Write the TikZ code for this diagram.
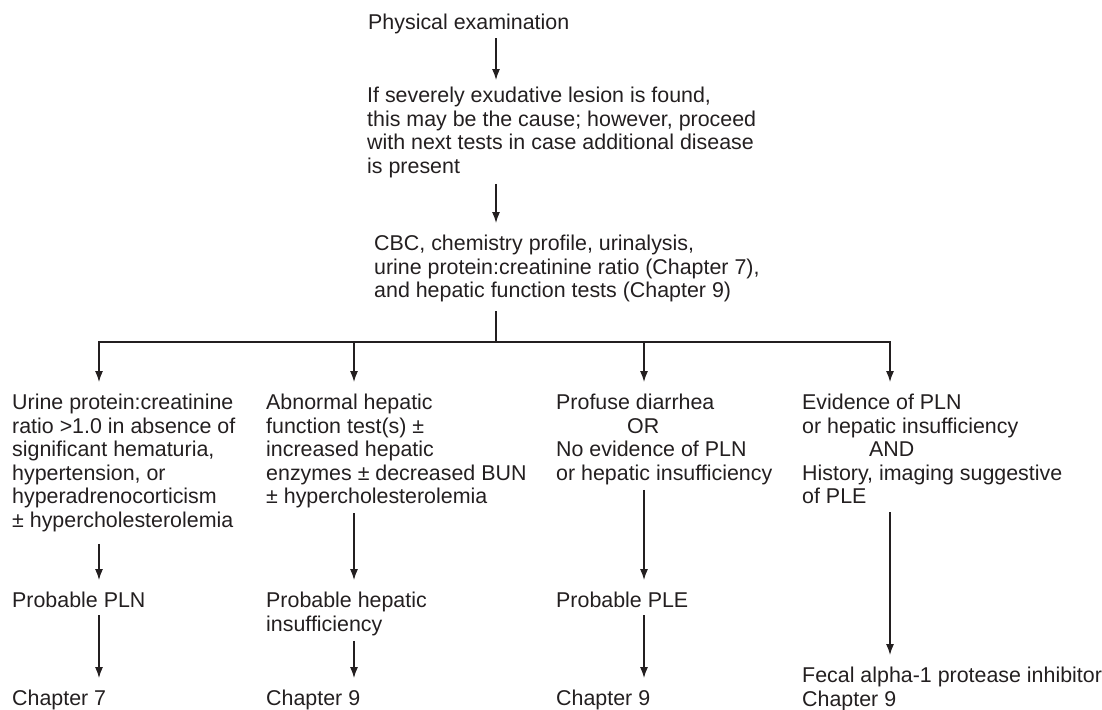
\documentclass[tikz,border=0pt]{standalone}
\usepackage{fontspec}
\setmainfont{Liberation Sans}
\usetikzlibrary{arrows.meta}
\definecolor{ink}{RGB}{35,31,32}

\begin{document}
\begin{tikzpicture}[x=1pt, y=-1pt,
        txt/.style={anchor=north west, align=left, inner sep=0pt, text=ink,
            font=\fontsize{21.4}{23.5}\selectfont},
        line/.style={draw=ink, line width=1.2pt},
        arr/.style={line, -{Latex[length=11pt,width=8pt]}, shorten <=5pt, shorten >=12pt}]
        \useasboundingbox (0,0) rectangle (1102,709);
        % Draw the first steps
        \node[txt] (exam) at (368,14) {Physical examination};
        \node[txt] (lesion) at (367,87) {If severely exudative lesion is found,\\
            this may be the cause; however, proceed\\
            with next tests in case additional disease\\
            is present};
        \node[txt] (tests) at (374,235) {CBC, chemistry profile, urinalysis,\\
            urine protein:creatinine ratio (Chapter 7),\\
            and hepatic function tests (Chapter 9)};
        % Branch points
        \coordinate (mid) at (496,342);
        \coordinate (br1) at (99,342);
        \coordinate (br2) at (354,342);
        \coordinate (br3) at (644,342);
        \coordinate (br4) at (890,342);
        % Draw the findings
        \node[txt] (urine) at (12,394) {Urine protein:creatinine\\
            ratio >1.0 in absence of\\
            significant hematuria,\\
            hypertension, or\\
            hyperadrenocorticism\\
            ± hypercholesterolemia};
        \node[txt] (hepatic) at (266,394) {Abnormal hepatic\\
            function test(s) ±\\
            increased hepatic\\
            enzymes ± decreased BUN\\
            ± hypercholesterolemia};
        \node[txt] (diarrhea) at (556,394) {Profuse diarrhea\\
            \hspace*{71pt}OR\\
            No evidence of PLN\\
            or hepatic insufficiency};
        \node[txt] (history) at (802,394) {Evidence of PLN\\
            or hepatic insufficiency\\
            \hspace*{67pt}AND\\
            History, imaging suggestive\\
            of PLE};
        % Draw the diagnoses
        \node[txt] (pln) at (12,592) {Probable PLN};
        \node[txt] (insuff) at (266,592) {Probable hepatic\\insufficiency};
        \node[txt] (ple) at (556,592) {Probable PLE};
        \node[txt] (fecal) at (802,667) {Fecal alpha-1 protease inhibitor\\Chapter 9};
        \node[txt] (ch1) at (12,690) {Chapter 7};
        \node[txt] (ch2) at (266,690) {Chapter 9};
        \node[txt] (ch3) at (556,690) {Chapter 9};
        % Draw the arrows
        \draw[arr, shorten <=4pt, shorten >=7pt] (exam.south -| mid) -- (lesion.north -| mid);
        \draw[arr, shorten <=6pt] (lesion.south -| mid) -- (tests.north -| mid);
        \draw[line, shorten <=9pt] (tests.south -| mid) -- (mid);
        \draw[line, line cap=rect] (br1) -- (br4);
        \foreach \b/\n in {br1/urine, br2/hepatic, br3/diarrhea, br4/history} {
            \draw[arr, shorten <=0pt] (\b) -- (\n.north -| \b);
        }
        \draw[arr, shorten <=12pt] (urine.south -| br1) -- (pln.north -| br1);
        \draw[arr] (hepatic.south -| br2) -- (insuff.north -| br2);
        \draw[arr] (diarrhea.south -| br3) -- (ple.north -| br3);
        \draw[arr, shorten <=8pt] (history.south -| br4) -- (fecal.north -| br4);
        \draw[arr, shorten <=7pt] (pln.south -| br1) -- (ch1.north -| br1);
        \draw[arr] (insuff.south -| br2) -- (ch2.north -| br2);
        \draw[arr, shorten <=7pt] (ple.south -| br3) -- (ch3.north -| br3);
\end{tikzpicture}
\end{document}
